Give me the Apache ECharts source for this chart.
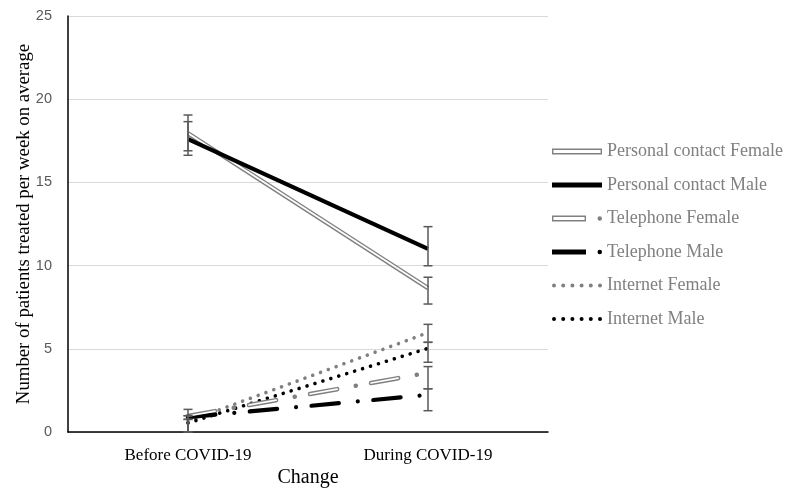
<!DOCTYPE html>
<html>
<head>
<meta charset="utf-8">
<script src="https://cdn.jsdelivr.net/npm/echarts@6/dist/echarts.min.js"></script>
<style>html,body{margin:0;padding:0;background:#fff}#c{width:792px;height:492px}</style>
</head>
<body>
<div id="c"></div>
<script>
// ---- data ----
var categories = ['Before COVID-19', 'During COVID-19'];
var seriesNames = ['Personal contact Female', 'Personal contact Male', 'Telephone Female', 'Telephone Male', 'Internet Female', 'Internet Male'];
var personalFemale = [17.95, 8.65];
var personalMale = [17.6, 11.0];
var telephoneFemale = [0.96, 3.56];
var telephoneMale = [0.89, 2.23];
var internetFemale = [0.64, 5.97];
var internetMale = [0.54, 5.03];
// error bar ranges [low, high] per category
var personalFemaleErr = [[16.9, 19.05], [7.69, 9.3]];
var personalMaleErr = [[16.63, 18.65], [9.99, 12.34]];
var telephoneFemaleErr = [[0.76, 1.36], [2.6, 3.93]];
var telephoneMaleErr = [[0.0, 0.98], [1.28, 2.6]];
var internetFemaleErr = [[0.0, 0.98], [5.39, 6.47]];
var internetMaleErr = [[0.0, 0.76], [4.19, 5.39]];
var yTicks = {min: 0, max: 25, interval: 5};

var GRAY = '#808080';
var SERIF = '"Liberation Serif", "DejaVu Serif", serif';

var errData = [];
[personalFemaleErr, personalMaleErr, telephoneFemaleErr, telephoneMaleErr, internetFemaleErr, internetMaleErr].forEach(function (arr) {
  arr.forEach(function (r, i) { errData.push([i, r[0], r[1]]); });
});

function renderErr(params, api) {
  var x = api.value(0);
  var lo = api.coord([x, api.value(1)]);
  var hi = api.coord([x, api.value(2)]);
  var w = 4.5;
  var st = {stroke: '#595959', lineWidth: 1.5, fill: null};
  return {type: 'group', children: [
    {type: 'line', shape: {x1: lo[0], y1: lo[1], x2: hi[0], y2: hi[1]}, style: st},
    {type: 'line', shape: {x1: lo[0] - w, y1: lo[1], x2: lo[0] + w, y2: lo[1]}, style: st},
    {type: 'line', shape: {x1: hi[0] - w, y1: hi[1], x2: hi[0] + w, y2: hi[1]}, style: st}
  ]};
}

var dashDot = [27.5, 19, 0.01, 15.5];
var dashOnly = [27.5, 34.51];
var dots = [0.01, 8.3];

function lineSeries(name, data, color, width, type, cap, z) {
  return {name: name, type: 'line', data: data, symbol: 'none', z: z || 2,
    lineStyle: {color: color, width: width, type: type, cap: cap || 'butt'},
    itemStyle: {color: color}, emphasis: {disabled: true}, animation: false};
}

var series = [
  lineSeries(seriesNames[4], internetFemale, GRAY, 3.6, dots, 'round'),
  lineSeries(seriesNames[5], internetMale, '#000', 3.6, dots, 'round'),
  lineSeries(seriesNames[2], telephoneFemale, GRAY, 4.6, dashDot, 'round'),
  lineSeries('tf-inner', telephoneFemale, '#fff', 1.7, dashOnly, 'round', 3),
  lineSeries(seriesNames[3], telephoneMale, '#000', 4.2, dashDot, 'round'),
  lineSeries(seriesNames[0], personalFemale, GRAY, 4.6, 'solid'),
  lineSeries('pcf-inner', personalFemale, '#fff', 1.7, 'solid', 'butt', 3),
  lineSeries(seriesNames[1], personalMale, '#000', 4.2, 'solid', 'butt', 4),
  {type: 'custom', name: 'err', renderItem: renderErr, data: errData, encode: {x: 0, y: [1, 2]}, z: 10, clip: false, animation: false, silent: true}
];

var icoDouble = 'path://M0,0H50V6H0Z M1.4,1.4V4.6H48.6V1.4Z';
var icoSolid = 'path://M0,0.5H50V5.5H0Z';
var icoDashDotDouble = 'path://M0,0H34V6H0Z M1.4,1.4V4.6H32.6V1.4Z M45.5,3A2.25,2.25 0 1 1 50,3A2.25,2.25 0 1 1 45.5,3Z';
var icoDashDot = 'path://M0,0.5H34V5.5H0Z M45.5,3A2.25,2.25 0 1 1 50,3A2.25,2.25 0 1 1 45.5,3Z';
var icoDots = 'path://M0,3A2,2 0 1 1 4,3A2,2 0 1 1 0,3Z M9.2,3A2,2 0 1 1 13.2,3A2,2 0 1 1 9.2,3Z M18.4,3A2,2 0 1 1 22.4,3A2,2 0 1 1 18.4,3Z M27.6,3A2,2 0 1 1 31.6,3A2,2 0 1 1 27.6,3Z M36.8,3A2,2 0 1 1 40.8,3A2,2 0 1 1 36.8,3Z M46,3A2,2 0 1 1 50,3A2,2 0 1 1 46,3Z';
var legendIcons = [icoDouble, icoSolid, icoDashDotDouble, icoDashDot, icoDots, icoDots];
var legendColors = [GRAY, '#000', GRAY, '#000', GRAY, '#000'];

var chart = echarts.init(document.getElementById('c'), null, {renderer: 'canvas'});
chart.setOption({
  backgroundColor: '#fff',
  animation: false,
  grid: {left: 68, right: 244, top: 16, bottom: 60, containLabel: false, outerBoundsMode: 'none'},
  legend: {
    orient: 'vertical', left: 547, top: 137.5, itemWidth: 50, itemHeight: 6, itemGap: 15.5,
    selectedMode: false,
    textStyle: {color: GRAY, fontFamily: SERIF, fontSize: 18},
    data: seriesNames.map(function (n, i) {
      return {name: n, icon: legendIcons[i], itemStyle: {color: legendColors[i], borderWidth: 0}};
    })
  },
  xAxis: {
    type: 'category', data: categories, boundaryGap: true,
    axisLine: {lineStyle: {color: '#000', width: 1.5}},
    axisTick: {show: false},
    axisLabel: {color: '#000', fontFamily: SERIF, fontSize: 17, margin: 15},
    name: 'Change', nameLocation: 'middle', nameGap: 36, nameMoveOverlap: false,
    nameTextStyle: {color: '#000', fontFamily: SERIF, fontSize: 20}
  },
  yAxis: {
    type: 'value', min: yTicks.min, max: yTicks.max, interval: yTicks.interval,
    axisLine: {show: true, lineStyle: {color: '#000', width: 1.5}},
    axisTick: {show: false},
    splitLine: {lineStyle: {color: '#d9d9d9', width: 1}},
    axisLabel: {color: '#595959', fontFamily: '"Liberation Sans", Arial, sans-serif', fontSize: 14.5, margin: 16},
    name: 'Number of patients treated per week on average', nameLocation: 'middle', nameGap: 34, nameMoveOverlap: false,
    nameTextStyle: {color: '#000', fontFamily: SERIF, fontSize: 18.8}
  },
  series: series
});
</script>
</body>
</html>
